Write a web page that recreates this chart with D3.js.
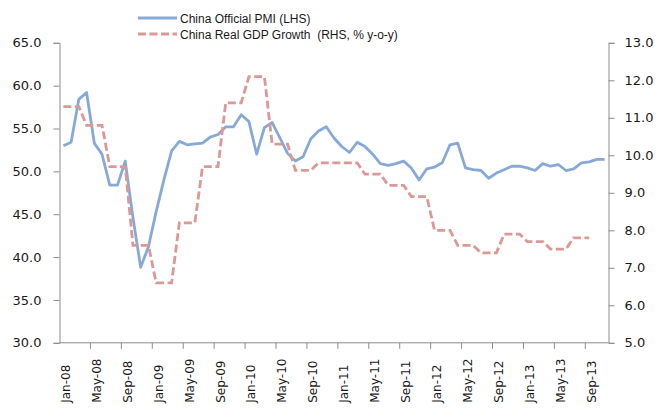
<!DOCTYPE html>
<html>
<head>
<meta charset="utf-8">
<script src="https://cdn.jsdelivr.net/npm/d3@7"></script>
<style>
  html, body { margin: 0; padding: 0; background: #fff; }
  svg { display: block; }
  text { font-family: "DejaVu Sans", "Liberation Sans", sans-serif; fill: #1a1a1a; }
</style>
</head>
<body>
<svg id="chart" width="657" height="410"></svg>
<script>
// ---- Data ----
const startMonth = new Date(2008, 0, 1);
const monthCount = 71; // Jan-08 .. Nov-13
const categories = d3.timeMonth.range(startMonth, d3.timeMonth.offset(startMonth, monthCount));

const pmi = [
  53.0, 53.4, 58.4, 59.2, 53.3, 52.0, 48.4, 48.4, 51.2, 44.6, 38.8, 41.2,
  45.3, 49.0, 52.4, 53.5, 53.1, 53.2, 53.3, 54.0, 54.3, 55.2, 55.2, 56.6,
  55.8, 52.0, 55.1, 55.7, 53.9, 52.1, 51.2, 51.7, 53.8, 54.7, 55.2, 53.9,
  52.9, 52.2, 53.4, 52.9, 52.0, 50.9, 50.7, 50.9, 51.2, 50.4, 49.0, 50.3,
  50.5, 51.0, 53.1, 53.3, 50.4, 50.2, 50.1, 49.2, 49.8, 50.2, 50.6, 50.6,
  50.4, 50.1, 50.9, 50.6, 50.8, 50.1, 50.3, 51.0, 51.1, 51.4, 51.4
];

// Quarterly real GDP growth, % y-o-y (2008Q1 .. 2013Q3)
const gdpQuarterly = [
  11.3, 10.8, 9.7, 7.6,
  6.6, 8.2, 9.7, 11.4,
  12.1, 10.3, 9.6, 9.8,
  9.8, 9.5, 9.2, 8.9,
  8.0, 7.6, 7.4, 7.9,
  7.7, 7.5, 7.8
];

const leftTicks = [30, 35, 40, 45, 50, 55, 60, 65];
const rightTicks = [5, 6, 7, 8, 9, 10, 11, 12, 13];
const tickLabels = ["Jan-08","May-08","Sep-08","Jan-09","May-09","Sep-09","Jan-10","May-10","Sep-10",
  "Jan-11","May-11","Sep-11","Jan-12","May-12","Sep-12","Jan-13","May-13","Sep-13"];

const seriesNames = ["China Official PMI (LHS)", "China Real GDP Growth  (RHS, % y-o-y)"];

// each month carries its quarter's GDP value
const gdpMonthly = categories.map((d, i) => {
  const q = Math.floor(i / 3);
  return q < gdpQuarterly.length ? gdpQuarterly[q] : null;
});

// ---- Layout ----
const svg = d3.select("#chart");
const plot = { left: 59.5, right: 608.5, top: 42.8, bottom: 342.8 };
const blue = "#87a9d8";
const red = "#db9896";
const axisColor = "#8c8c8c";

const fmt = d3.timeFormat("%b-%y");
const x = d3.scaleBand()
  .domain(categories.map(fmt))
  .range([plot.left, plot.right])
  .paddingInner(0).paddingOuter(0);
const xc = i => x(fmt(categories[i])) + x.bandwidth() / 2;

const yL = d3.scaleLinear().domain([30, 65]).range([plot.bottom, plot.top]);
const yR = d3.scaleLinear().domain([5, 13]).range([plot.bottom, plot.top]);

// ---- Axes ----
const leftAxis = d3.axisLeft(yL).tickValues(leftTicks).tickFormat(d3.format(".1f")).tickSize(6).tickPadding(12);
const gL = svg.append("g").attr("transform", `translate(${plot.left},0)`).call(leftAxis);

const rightAxis = d3.axisRight(yR).tickValues(rightTicks).tickFormat(d3.format(".1f")).tickSize(6).tickPadding(10);
const gR = svg.append("g").attr("transform", `translate(${plot.right},0)`).call(rightAxis);

// x axis with ticks at category boundaries, every 4 months
const tickIdx = tickLabels.map(l => categories.findIndex(c => fmt(c) === l));
const gX = svg.append("g").attr("transform", `translate(0,${plot.bottom})`);
gX.append("line").attr("x1", plot.left).attr("x2", plot.right).attr("y1", 0).attr("y2", 0)
  .attr("stroke", axisColor).attr("stroke-width", 1);
gX.selectAll("line.tk").data(tickIdx.slice(1)).join("line").attr("class", "tk")
  .attr("x1", i => x(fmt(categories[i]))).attr("x2", i => x(fmt(categories[i])))
  .attr("y1", 0).attr("y2", 6).attr("stroke", axisColor);
gX.selectAll("text").data(tickIdx).join("text")
  .attr("transform", i => `translate(${xc(i) + 6.5},${60}) rotate(-90)`)
  .attr("text-anchor", "start")
  .style("font-size", "12px")
  .text(i => fmt(categories[i]));

[gL, gR].forEach(g => {
  g.select(".domain").attr("stroke", axisColor);
  g.selectAll(".tick line").attr("stroke", axisColor);
  g.selectAll(".tick text").style("font-size", "13px").attr("fill", "#1a1a1a");
});

// ---- Lines ----
const linePmi = d3.line().x((d, i) => xc(i)).y(d => yL(d));
svg.append("path").datum(pmi)
  .attr("d", linePmi)
  .attr("fill", "none").attr("stroke", blue).attr("stroke-width", 2.8)
  .attr("stroke-linejoin", "round");

const lineGdp = d3.line().defined(d => d !== null).x((d, i) => xc(i)).y(d => yR(d));
svg.append("path").datum(gdpMonthly)
  .attr("d", lineGdp)
  .attr("fill", "none").attr("stroke", red).attr("stroke-width", 2.8)
  .attr("stroke-dasharray", "8,3.5");

// ---- Legend ----
const legend = svg.append("g");
const legY = [18, 34];
[blue, red].forEach((c, k) => {
  legend.append("line").attr("x1", 138).attr("x2", 177).attr("y1", legY[k]).attr("y2", legY[k])
    .attr("stroke", c).attr("stroke-width", 2.8)
    .attr("stroke-dasharray", k === 1 ? "8,3.5" : null);
  legend.append("text").attr("x", 180).attr("y", legY[k] + 4.5)
    .style("font-family", "'Liberation Sans', Arial, sans-serif")
    .style("font-size", "12px").style("white-space", "pre")
    .text(seriesNames[k]);
});
</script>
</body>
</html>
